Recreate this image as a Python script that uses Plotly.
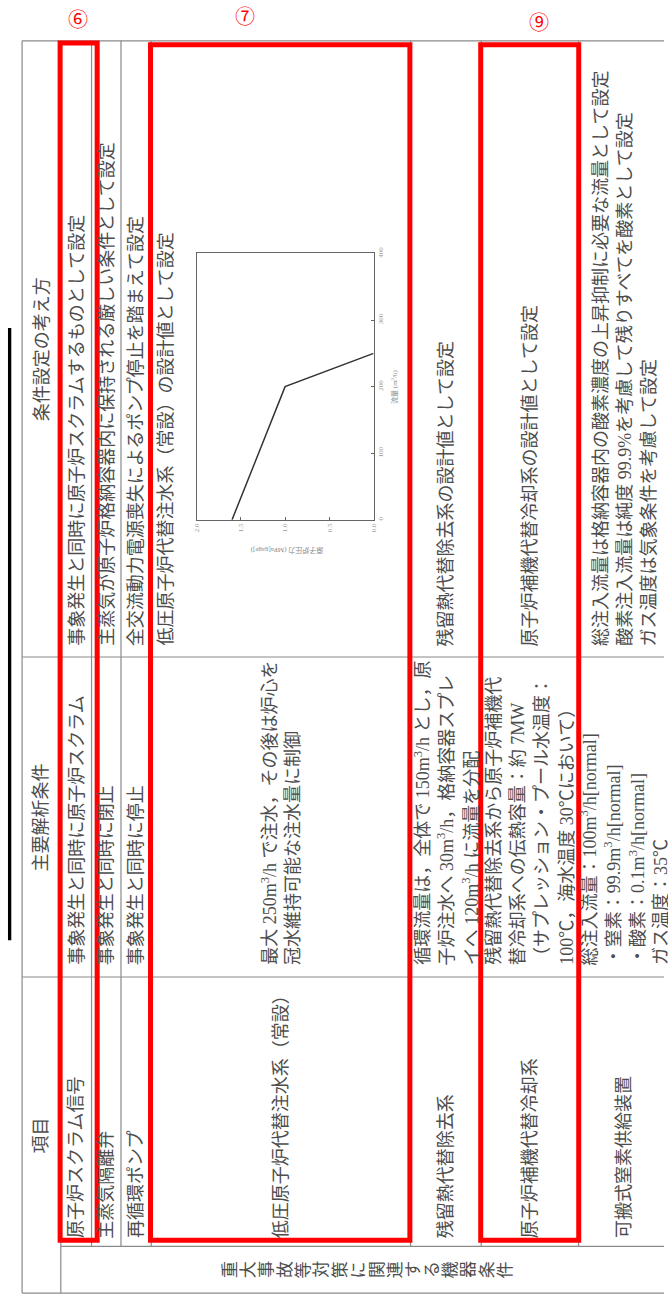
"""Rotated condition table with embedded pump curve (Plotly)."""

import plotly.graph_objects as go

# ---- data -------------------------------------------------------------
# 低圧原子炉代替注水系（常設）の注水特性
pressure_mpa = [0.0, 1.0, 1.6]
flow_m3h = [250, 200, 0]
pressure_ticks = [2.0, 1.5, 1.0, 0.5, 0.0]
flow_ticks = [0, 100, 200, 300, 400]
pressure_title = "原子炉圧力 (MPa[gage])"
flow_title = "流量 (m<sup>3</sup>/h)"

headers = ["項目", "主要解析条件", "条件設定の考え方"]
category = "重大事故等対策に関連する機器条件"

items = [
    "原子炉スクラム信号",
    "主蒸気隔離弁",
    "再循環ポンプ",
    "低圧原子炉代替注水系（常設）",
    "残留熱代替除去系",
    "原子炉補機代替冷却系",
    "可搬式窒素供給装置",
]

main_conditions = [
    ["事象発生と同時に原子炉スクラム"],
    ["事象発生と同時に閉止"],
    ["事象発生と同時に停止"],
    ["最大 250m<sup>3</sup>/h で注水，その後は炉心を", "冠水維持可能な注水量に制御"],
    ["循環流量は，全体で 150m<sup>3</sup>/h とし，原",
     "子炉注水へ 30m<sup>3</sup>/h，格納容器スプレ",
     "イへ 120m<sup>3</sup>/h に流量を分配"],
    ["残留熱代替除去系から原子炉補機代",
     "替冷却系への伝熱容量：約 7MW",
     "（サプレッション・プール水温度：",
     "100℃，海水温度 30℃において）"],
    ["総注入流量：100m<sup>3</sup>/h[normal]",
     "・窒素：99.9m<sup>3</sup>/h[normal]",
     "・酸素：0.1m<sup>3</sup>/h[normal]",
     "ガス温度：35℃"],
]

reasons = [
    ["事象発生と同時に原子炉スクラムするものとして設定"],
    ["主蒸気が原子炉格納容器内に保持される厳しい条件として設定"],
    ["全交流動力電源喪失によるポンプ停止を踏まえて設定"],
    ["低圧原子炉代替注水系（常設）の設計値として設定"],
    ["残留熱代替除去系の設計値として設定"],
    ["原子炉補機代替冷却系の設計値として設定"],
    ["総注入流量は格納容器内の酸素濃度の上昇抑制に必要な流量として設定",
     "酸素注入流量は純度 99.9%を考慮して残りすべてを酸素として設定",
     "ガス温度は気象条件を考慮して設定"],
]

markers = ["⑥", "⑦", "⑨"]

# ---- page geometry (pixels, page is rotated 90deg CCW) ----------------
W, H = 668, 1302
# serif Latin glyphs (like the original Mincho/Century), CJK from Noto
FONT = "Liberation Serif, Noto Sans CJK JP"
CJK = "Noto Sans CJK JP"
TEXT = "#4d4d4d"
GRID = "#8a8a8a"
RED = "#ff0000"

LEFT = 18.3
ROW_EDGES = [57.5, 88.6, 118.4, 149.0, 411.5, 483.0, 581.5, 675.0]
TOP, REASON_MAIN, MAIN_ITEM, BAND, BOTTOM = 34, 654, 976, 1247, 1294
ITEM_START, MAIN_START, REASON_START = 1241, 966, 645
PITCH = 24.5
SIZE = 18

MARKER_POS = [(75, 12), (244, 9), (541, 15)]
RED_BOXES = [(56.8, 36.3, 94.3, 1241), (148.3, 38, 410.8, 1241), (482.5, 38, 581.7, 1241)]
CHART_BOX = (195, 248, 374, 516)


def vtext(x, y, s, anchor="bottom", size=SIZE, color=TEXT, angle=-90):
    return dict(x=x, y=y, xref="x", yref="y", text=s, textangle=angle,
                showarrow=False, xanchor="center", yanchor=anchor,
                font=dict(family=FONT, size=size, color=color))


def hline(y, x0, x1):
    return dict(type="line", xref="x", yref="y", x0=x0, x1=x1, y0=y, y1=y,
                line=dict(color=GRID, width=1.2))


def vline(x, y0, y1):
    return dict(type="line", xref="x", yref="y", x0=x, x1=x, y0=y0, y1=y1,
                line=dict(color=GRID, width=1.2))


def block(center, lines, start):
    n = len(lines)
    return [vtext(center + (i - (n - 1) / 2) * PITCH, start, s) for i, s in enumerate(lines)]


shapes = [
    hline(TOP, LEFT, W), hline(REASON_MAIN, LEFT, W), hline(MAIN_ITEM, LEFT, W),
    hline(BAND, ROW_EDGES[0], W), hline(BOTTOM, LEFT, W),
    vline(LEFT, TOP, BOTTOM), vline(ROW_EDGES[0], TOP, BOTTOM),
]
shapes += [vline(x, TOP, BAND) for x in ROW_EDGES[1:-1]]
# clipped heading underline at the page edge
shapes.append(dict(type="line", xref="x", yref="y", x0=5.7, x1=5.7, y0=323, y1=939,
                   line=dict(color="black", width=3.3)))

annotations = []
header_center = (LEFT + ROW_EDGES[0]) / 2
annotations.append(vtext(header_center, (MAIN_ITEM + BOTTOM) / 2, headers[0], "middle"))
annotations.append(vtext(header_center, (REASON_MAIN + MAIN_ITEM) / 2, headers[1], "middle"))
annotations.append(vtext(header_center, (TOP + REASON_MAIN) / 2, headers[2], "middle"))

for i, item in enumerate(items):
    c = (ROW_EDGES[i] + ROW_EDGES[i + 1]) / 2
    annotations.append(vtext(c, ITEM_START, item))
    annotations += block(c, main_conditions[i], MAIN_START)
    if i == 3:
        annotations += block(ROW_EDGES[i] + 14, reasons[i], REASON_START)
    else:
        annotations += block(c, reasons[i], REASON_START)

# category label: vertical writing in the original page, one glyph per step
cat_center, cat_pitch = 368.5, 18.6
for k, ch in enumerate(category):
    x = cat_center + (k - (len(category) - 1) / 2) * cat_pitch
    annotations.append(vtext(x, (BAND + BOTTOM) / 2, ch, "middle", size=17))

for m, (mx, my) in zip(markers, MARKER_POS):
    annotations.append(dict(x=mx, y=my, xref="x", yref="y", text=m, showarrow=False,
                            xanchor="center", yanchor="middle",
                            font=dict(family=CJK, size=20, color=RED)))

for x0, y0, x1, y1 in RED_BOXES:
    shapes.append(dict(type="rect", xref="x", yref="y", x0=x0, x1=x1, y0=y0, y1=y1,
                       line=dict(color=RED, width=5)))

# embedded chart titles (rotated with the page)
cx0, cy0, cx1, cy1 = CHART_BOX
annotations.append(vtext((cx0 + cx1) / 2 + 2, 547, pressure_title, "middle",
                         size=7, color="#888", angle=180))
annotations.append(vtext(395, (cy0 + cy1) / 2, flow_title, "middle", size=7, color="#888"))

fig = go.Figure()
fig.add_trace(go.Scatter(x=pressure_mpa, y=flow_m3h, mode="lines", xaxis="x2", yaxis="y2",
                         line=dict(color="#333", width=1.5), showlegend=False,
                         hoverinfo="skip"))

axis_common = dict(showline=True, linecolor="#666", linewidth=1, mirror=True,
                   showgrid=False, zeroline=False, ticks="inside", ticklen=3,
                   tickcolor="#666", tickangle=-90,
                   tickfont=dict(family=FONT, size=7, color="#999"))

fig.update_layout(
    width=W, height=H,
    margin=dict(l=0, r=0, t=0, b=0),
    paper_bgcolor="white", plot_bgcolor="white",
    font=dict(family=FONT, color=TEXT),
    xaxis=dict(range=[0, W], visible=False, domain=[0, 1], fixedrange=True),
    yaxis=dict(range=[H, 0], visible=False, domain=[0, 1], fixedrange=True),
    xaxis2=dict(domain=[cx0 / W, cx1 / W], anchor="y2", range=[2.0, 0.0],
                tickvals=pressure_ticks, tickformat=".1f", **axis_common),
    yaxis2=dict(domain=[1 - cy1 / H, 1 - cy0 / H], anchor="x2", side="right",
                range=[0, 400], tickvals=flow_ticks, **axis_common),
    shapes=shapes,
    annotations=annotations,
)

fig.write_html(
    "out.html",
    config={"displayModeBar": False, "staticPlot": True},
    post_script="document.body.style.margin='0';document.body.style.overflow='hidden';",
)
